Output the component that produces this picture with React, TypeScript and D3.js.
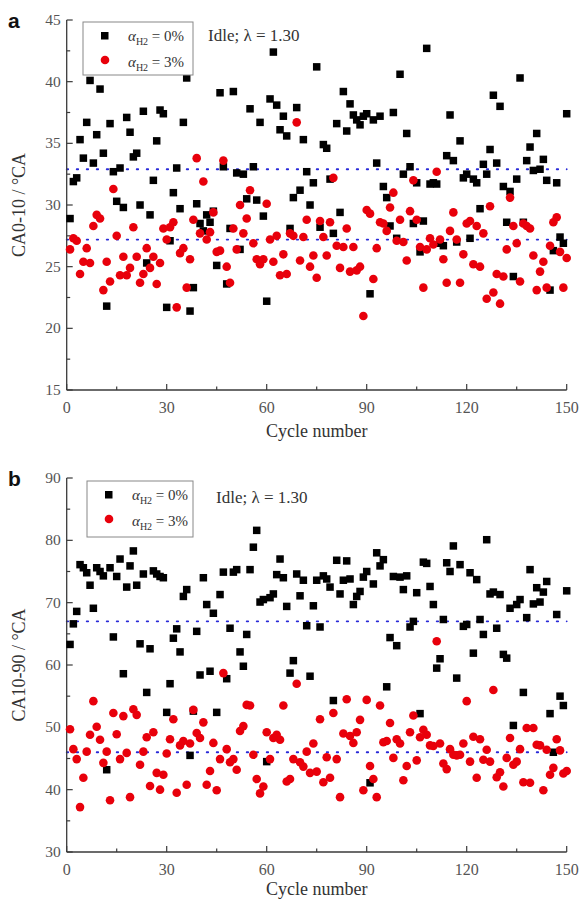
import React from "react";
import * as d3 from "d3";

const cycles: number[] = d3.range(1, 151);

const caA0: number[] = [
  28.9, 31.9, 32.2, 35.3, 33.8, 36.7, 40.1, 33.4, 35.7, 39.4,
  34.2, 21.8, 36.6, 32.7, 30.3, 33.0, 29.8, 37.1, 35.9, 33.9,
  34.2, 30.0, 37.6, 25.3, 29.2, 32.0, 35.2, 37.7, 37.4, 21.7,
  27.1, 31.0, 33.0, 29.7, 36.7, 40.3, 21.4, 23.3, 30.1, 28.5,
  27.9, 29.2, 28.6, 29.5, 25.1, 39.1, 33.1, 23.6, 28.1, 39.2,
  32.6, 26.4, 32.5, 30.5, 37.8, 33.1, 30.4, 36.7, 29.1, 22.2,
  38.6, 42.4, 38.1, 36.1, 37.2, 35.6, 28.1, 30.6, 37.9, 31.2,
  35.3, 32.7, 30.0, 31.8, 41.2, 28.2, 34.9, 34.6, 32.1, 27.7,
  36.6, 29.4, 39.2, 36.0, 38.2, 37.3, 36.9, 36.5, 37.2, 37.4,
  22.8, 36.9, 33.4, 37.2, 31.5, 30.6, 28.3, 37.5, 27.3, 40.6,
  32.5, 35.8, 33.1, 28.5, 31.8, 26.2, 28.7, 42.7, 31.7, 31.8,
  31.7, 26.9, 26.7, 34.0, 37.3, 33.6, 27.0, 35.2, 32.2, 32.5,
  27.3, 32.1, 31.8, 29.7, 33.3, 32.5, 34.5, 38.9, 33.4, 38.0,
  31.5, 28.6, 31.1, 24.2, 32.1, 40.3, 28.6, 33.6, 34.7, 32.8,
  35.8, 32.9, 33.7, 32.0, 23.1, 26.3, 31.8, 27.4, 26.9, 37.4,
];

const caA3: number[] = [
  26.4, 27.3, 27.1, 24.4, 25.4, 26.5, 25.3, 28.3, 29.2, 28.9,
  23.1, 25.4, 23.8, 31.3, 27.5, 24.3, 25.8, 24.3, 24.9, 28.2,
  25.8, 23.7, 24.4, 26.5, 24.9, 25.8, 23.6, 25.3, 28.1, 27.2,
  28.2, 28.6, 21.7, 26.1, 26.5, 23.3, 25.6, 28.8, 33.8, 27.7,
  31.9, 27.2, 27.8, 29.4, 26.2, 26.3, 33.6, 25.0, 23.7, 28.1,
  26.4, 30.0, 27.7, 28.9, 31.2, 26.9, 25.6, 25.2, 25.6, 30.1,
  27.2, 25.4, 27.5, 24.3, 26.0, 24.4, 27.7, 27.5, 36.7, 25.5,
  27.4, 28.8, 25.0, 25.9, 24.1, 28.7, 27.4, 25.9, 28.6, 32.2,
  26.7, 24.9, 26.6, 28.1, 24.6, 26.6, 24.7, 25.0, 21.0, 29.6,
  29.3, 24.0, 26.5, 28.6, 28.5, 27.9, 29.8, 31.0, 27.1, 28.8,
  27.0, 25.5, 29.5, 32.0, 28.8, 26.6, 23.3, 26.4, 27.3, 26.8,
  32.7, 27.2, 25.6, 23.7, 27.9, 29.4, 27.2, 23.7, 26.0, 28.5,
  28.7, 25.2, 28.3, 25.0, 27.7, 22.4, 29.9, 22.9, 24.4, 22.0,
  24.2, 26.4, 30.6, 28.3, 26.9, 23.8, 28.5, 28.3, 28.1, 25.9,
  23.1, 24.6, 25.4, 23.3, 26.7, 28.6, 29.0, 26.2, 23.3, 25.7,
];

const caB0: number[] = [
  63.3, 66.6, 68.6, 76.1, 75.6, 74.8, 72.8, 69.1, 75.6, 75.0,
  74.3, 43.2, 75.6, 64.5, 74.2, 77.0, 58.6, 72.5, 75.9, 78.3,
  72.8, 63.4, 74.6, 55.6, 62.6, 75.1, 74.6, 74.2, 74.0, 52.4,
  57.0, 64.3, 65.8, 62.1, 71.0, 72.1, 45.5, 52.6, 65.4, 58.4,
  74.0, 69.7, 59.0, 68.3, 52.4, 71.3, 74.9, 57.8, 65.9, 74.9,
  75.3, 62.1, 59.8, 64.9, 75.3, 78.9, 81.6, 70.1, 70.5, 44.5,
  70.8, 71.4, 74.5, 77.0, 74.0, 69.4, 58.7, 60.7, 74.6, 71.1,
  73.6, 66.3, 58.2, 69.5, 73.6, 66.1, 74.3, 73.8, 72.5, 54.3,
  76.8, 71.4, 73.6, 76.7, 73.8, 69.7, 71.0, 71.8, 74.1, 75.0,
  41.1, 73.0, 78.0, 75.9, 76.9, 56.5, 64.4, 74.2, 63.1, 74.1,
  72.1, 74.3, 66.1, 67.0, 71.6, 52.2, 76.5, 76.3, 72.6, 69.7,
  59.5, 61.0, 67.3, 76.4, 75.0, 79.1, 57.9, 76.1, 66.2, 66.5,
  74.8, 61.9, 73.7, 67.3, 64.9, 80.1, 71.4, 71.7, 65.9, 71.3,
  61.7, 61.1, 69.1, 50.3, 69.7, 70.5, 55.6, 67.6, 75.3, 69.8,
  72.4, 70.1, 71.7, 73.4, 52.2, 46.0, 68.1, 55.0, 53.5, 71.9,
];

const caB3: number[] = [
  49.7, 46.5, 44.9, 37.2, 41.9, 46.1, 48.8, 54.2, 50.1, 48.0,
  44.3, 46.1, 38.3, 52.3, 48.9, 44.9, 51.8, 45.9, 38.8, 52.9,
  52.0, 44.0, 46.1, 48.4, 40.6, 49.2, 42.7, 40.0, 42.4, 45.8,
  48.1, 51.3, 39.5, 47.1, 47.8, 40.8, 47.4, 52.8, 49.1, 48.3,
  50.8, 40.8, 43.0, 47.5, 39.9, 44.9, 58.7, 46.5, 44.4, 44.9,
  43.2, 49.4, 50.2, 53.6, 53.5, 45.6, 41.7, 39.4, 40.5, 49.2,
  44.9, 48.3, 48.8, 48.0, 53.5, 41.3, 41.7, 44.9, 57.0, 44.4,
  43.7, 46.1, 42.7, 47.4, 42.9, 51.3, 41.2, 45.2, 41.9, 52.3,
  44.9, 38.8, 49.0, 54.5, 48.6, 47.5, 49.2, 51.2, 39.9, 54.4,
  43.8, 41.7, 38.8, 53.5, 47.6, 47.8, 50.7, 45.1, 48.1, 47.4,
  41.5, 43.8, 49.2, 51.9, 44.7, 48.4, 49.6, 48.8, 47.1, 47.0,
  63.8, 47.4, 44.2, 43.3, 46.5, 45.6, 45.5, 45.6, 47.4, 54.2,
  44.5, 48.5, 41.9, 48.1, 44.8, 46.4, 44.5, 56.0, 42.0, 42.8,
  40.5, 45.1, 48.3, 44.0, 44.5, 46.5, 41.2, 49.9, 41.1, 49.9,
  47.2, 47.1, 39.9, 46.4, 42.4, 43.5, 48.1, 46.3, 42.6, 43.0,
];

const meansA: number[] = [32.9, 27.2];
const meansB: number[] = [67.0, 46.0];

const xTicks: number[] = [0, 30, 60, 90, 120, 150];
const yTicksA: number[] = [15, 20, 25, 30, 35, 40, 45];
const yTicksB: number[] = [30, 40, 50, 60, 70, 80, 90];

const SERIF = "'Liberation Serif', 'Times New Roman', serif";
const AXIS = "#3a3a3a";
const RED = "#e8000b";
const BLUE = "#2a2ad8";

interface PanelProps {
  letter: string;
  yLabel: string;
  domain: [number, number];
  top: number;
  bottom: number;
  yTicks: number[];
  minorStep: number;
  s0: number[];
  s3: number[];
  means: number[];
  legend: { x: number; y: number; w: number; h: number };
  noteX: number;
  noteY: number;
  titleGap: number;
}

function Panel(p: PanelProps) {
  const x = d3.scaleLinear().domain([0, 150]).range([66.7, 566.7]);
  const y = d3.scaleLinear().domain(p.domain).range([p.bottom, p.top]);
  const minorY = d3.range(p.domain[0], p.domain[1] + 0.001, p.minorStep);
  const minorX = d3.range(0, 151, 15);
  const sq = 7.5;
  const r = 4.3;
  return (
    <g>
      <text x={8} y={p.top + 8} fontFamily="'Liberation Sans', Arial, sans-serif" fontWeight="bold" fontSize={21} fill="#111">
        {p.letter}
      </text>
      {p.means.map((m, i) => (
        <line key={"m" + i} x1={x(0)} x2={x(150)} y1={y(m)} y2={y(m)} stroke={BLUE} strokeWidth={1.8} strokeDasharray="1.5,8.5" strokeLinecap="round" />
      ))}
      <line x1={x(0)} x2={x(0)} y1={y(p.domain[1])} y2={y(p.domain[0])} stroke={AXIS} strokeWidth={1.3} />
      <line x1={x(0)} x2={x(150)} y1={y(p.domain[0])} y2={y(p.domain[0])} stroke={AXIS} strokeWidth={1.3} />
      {minorY.map((v, i) => {
        const major = p.yTicks.includes(Math.round(v * 10) / 10);
        return <line key={"yt" + i} x1={x(0)} x2={x(0) + (major ? 6 : 3.5)} y1={y(v)} y2={y(v)} stroke={AXIS} strokeWidth={1.2} />;
      })}
      {minorX.map((v, i) => {
        const major = xTicks.includes(v);
        return <line key={"xt" + i} x1={x(v)} x2={x(v)} y1={y(p.domain[0])} y2={y(p.domain[0]) - (major ? 6 : 3.5)} stroke={AXIS} strokeWidth={1.2} />;
      })}
      {p.yTicks.map((v) => (
        <text key={"yl" + v} x={x(0) - 6} y={y(v) + 5} textAnchor="end" fontFamily={SERIF} fontSize={15.5} fill="#555">
          {v}
        </text>
      ))}
      {xTicks.map((v) => (
        <text key={"xl" + v} x={x(v)} y={y(p.domain[0]) + 23} textAnchor="middle" fontFamily={SERIF} fontSize={16} fill="#555">
          {v}
        </text>
      ))}
      <text x={x(75)} y={y(p.domain[0]) + p.titleGap} textAnchor="middle" fontFamily={SERIF} fontSize={18} fill="#333">
        Cycle number
      </text>
      <text transform={`translate(25, ${(p.top + p.bottom) / 2}) rotate(-90)`} textAnchor="middle" fontFamily={SERIF} fontSize={18} fill="#333">
        {p.yLabel}
      </text>
      {p.s0.map((v, i) => (
        <rect key={"s" + i} x={x(cycles[i]) - sq / 2} y={y(v) - sq / 2} width={sq} height={sq} fill="#000" />
      ))}
      {p.s3.map((v, i) => (
        <circle key={"c" + i} cx={x(cycles[i])} cy={y(v)} r={r} fill={RED} />
      ))}
      <rect x={p.legend.x} y={p.legend.y} width={p.legend.w} height={p.legend.h} fill="#fff" stroke="#888" strokeWidth={1} />
      <rect x={p.legend.x + 18} y={p.legend.y + 10} width={sq} height={sq} fill="#000" />
      <circle cx={p.legend.x + 22} cy={p.legend.y + 38} r={r} fill={RED} />
      {["0%", "3%"].map((t, i) => (
        <text key={"lg" + i} x={p.legend.x + 45} y={p.legend.y + 19 + i * 26} fontFamily={SERIF} fontSize={15} fill="#333">
          <tspan fontStyle="italic">α</tspan>
          <tspan fontSize={10} dy={4}>H2</tspan>
          <tspan dy={-4}>{" = " + t}</tspan>
        </text>
      ))}
      <text x={p.noteX} y={p.noteY} fontFamily={SERIF} fontSize={17} fill="#333">
        Idle; λ = 1.30
      </text>
    </g>
  );
}

export default function App() {
  return (
    <svg width={584} height={901} style={{ position: "absolute", left: 0, top: 0, background: "#fff" }}>
      <rect x={0} y={0} width={584} height={901} fill="#fff" />
      <Panel
        letter="a"
        yLabel="CA0-10 / °CA"
        domain={[15, 45]}
        top={20}
        bottom={390}
        yTicks={yTicksA}
        minorStep={2.5}
        s0={caA0}
        s3={caA3}
        means={meansA}
        legend={{ x: 83, y: 22, w: 110, h: 53 }}
        noteX={208}
        noteY={41}
        titleGap={47}
      />
      <Panel
        letter="b"
        yLabel="CA10-90 / °CA"
        domain={[30, 90]}
        top={478}
        bottom={852}
        yTicks={yTicksB}
        minorStep={5}
        s0={caB0}
        s3={caB3}
        means={meansB}
        legend={{ x: 87, y: 481, w: 106, h: 56 }}
        noteX={216}
        noteY={503}
        titleGap={43}
      />
    </svg>
  );
}
